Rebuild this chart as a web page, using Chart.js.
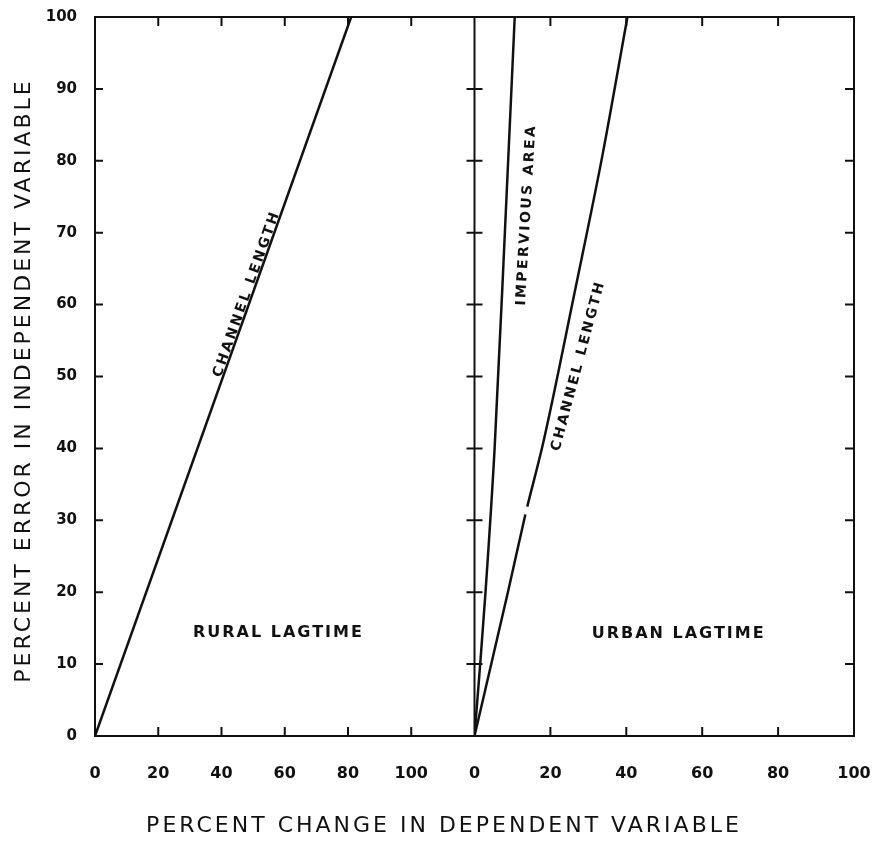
<!DOCTYPE html>
<html>
<head>
<meta charset="utf-8">
<script src="https://cdn.jsdelivr.net/npm/chart.js@4.4.1/dist/chart.umd.min.js"></script>
<style>
  html, body { margin: 0; padding: 0; background: #fff; }
  #wrap { position: relative; width: 879px; height: 846px; }
</style>
</head>
<body>
<div id="wrap"><canvas id="myChart" width="879" height="846"></canvas></div>
<script>
// valores (porcentajes)
const yTickValues = [0, 10, 20, 30, 40, 50, 60, 70, 80, 90, 100];
const ruralTickValues = [0, 20, 40, 60, 80, 100];
const urbanTickValues = [0, 20, 40, 60, 80, 100];

const ruralChannelX = [0, 81];
const ruralChannelY = [0, 100];

const urbanImperviousX = [0, 1.5, 2.9, 5.3, 8, 10.6];
const urbanImperviousY = [0, 10, 20, 40, 70, 100];

const urbanChannelX = [0, 8.8, 13.4, 13.9, 18.2, 26.5, 33.8, 40.3];
const urbanChannelY = [0, 20, 30.8, 31.9, 41, 62, 81, 100];
const urbanChannelGap = 2; // tramo cortado en la linea

const ink = '#111';
const fam = '"DejaVu Sans", "Liberation Sans", sans-serif';

function toPoints(xs, ys) {
    return xs.map((x, i) => ({ x: x, y: ys[i] }));
}

// etiquetas dentro del grafico
const plotLabels = [
    { text: 'CHANNEL LENGTH', axis: 'xRural', x: 48, y: 61.5, angle: -70.4, size: 14, spacing: 2.4 },
    { text: 'IMPERVIOUS AREA', axis: 'xUrban', x: 13.7, y: 72.5, angle: -86.7, size: 14, spacing: 2.4 },
    { text: 'CHANNEL LENGTH', axis: 'xUrban', x: 27.4, y: 51.5, angle: -75, size: 14, spacing: 2.4 },
    { text: 'RURAL LAGTIME', axis: 'xRural', x: 58, y: 14.3, angle: 0, size: 16, spacing: 2 },
    { text: 'URBAN LAGTIME', axis: 'xUrban', x: 53.8, y: 14.2, angle: 0, size: 16, spacing: 2 }
];

const framePlugin = {
    id: 'frameTicks',
    afterDraw(chart) {
        const ctx = chart.ctx;
        const ca = chart.chartArea;
        const y = chart.scales.y;
        const xr = chart.scales.xRural;
        const xu = chart.scales.xUrban;
        const mid = xu.left;
        ctx.save();
        ctx.strokeStyle = ink;
        ctx.lineWidth = 2;
        ctx.strokeRect(ca.left, ca.top, ca.right - ca.left, ca.bottom - ca.top);
        ctx.beginPath();
        ctx.moveTo(mid, ca.top);
        ctx.lineTo(mid, ca.bottom);
        // marcas verticales
        yTickValues.slice(1, -1).forEach(v => {
            const py = y.getPixelForValue(v);
            ctx.moveTo(ca.left, py); ctx.lineTo(ca.left + 8, py);
            ctx.moveTo(mid - 8, py); ctx.lineTo(mid + 8, py);
            ctx.moveTo(ca.right - 9, py); ctx.lineTo(ca.right, py);
        });
        // marcas horizontales
        ruralTickValues.slice(1).forEach(v => {
            const px = xr.getPixelForValue(v);
            ctx.moveTo(px, ca.top); ctx.lineTo(px, ca.top + 9);
            ctx.moveTo(px, ca.bottom); ctx.lineTo(px, ca.bottom - 9);
        });
        urbanTickValues.slice(1, -1).forEach(v => {
            const px = xu.getPixelForValue(v);
            ctx.moveTo(px, ca.top); ctx.lineTo(px, ca.top + 9);
            ctx.moveTo(px, ca.bottom); ctx.lineTo(px, ca.bottom - 9);
        });
        ctx.stroke();

        // textos
        ctx.fillStyle = ink;
        ctx.textAlign = 'center';
        ctx.textBaseline = 'middle';
        plotLabels.forEach(l => {
            const px = chart.scales[l.axis].getPixelForValue(l.x);
            const py = y.getPixelForValue(l.y);
            ctx.save();
            ctx.translate(px, py);
            ctx.rotate(l.angle * Math.PI / 180);
            ctx.font = 'bold ' + l.size + 'px ' + fam;
            ctx.letterSpacing = l.spacing + 'px';
            ctx.fillText(l.text, 0, 0);
            ctx.restore();
        });

        // titulos de los ejes
        ctx.font = '22px ' + fam;
        ctx.letterSpacing = '3px';
        ctx.fillText('PERCENT CHANGE IN DEPENDENT VARIABLE', 444, 826);
        ctx.save();
        ctx.translate(24, (ca.top + ca.bottom) / 2 + 4);
        ctx.rotate(-Math.PI / 2);
        ctx.fillText('PERCENT ERROR IN INDEPENDENT VARIABLE', 0, 0);
        ctx.restore();
        ctx.restore();
    }
};

const tickFont = { family: fam, size: 15, weight: 'bold' };
const xTickFont = { family: fam, size: 16, weight: 'bold' };

const lineStyle = {
    borderColor: ink,
    borderWidth: 2.5,
    pointRadius: 0,
    fill: false,
    cubicInterpolationMode: 'monotone',
    yAxisID: 'y'
};

// fija el tamano del eje y anula el relleno de etiquetas
function fixX(s) {
    s.height = 76;
    s.paddingLeft = 0;
    s.paddingRight = 0;
}

const ctx = document.getElementById('myChart').getContext('2d');
const myChart = new Chart(ctx, {
    type: 'line',
    data: {
        datasets: [
            Object.assign({ label: 'Rural channel length', data: toPoints(ruralChannelX, ruralChannelY), xAxisID: 'xRural' }, lineStyle),
            Object.assign({ label: 'Impervious area', data: toPoints(urbanImperviousX, urbanImperviousY), xAxisID: 'xUrban' }, lineStyle),
            Object.assign({
                label: 'Urban channel length',
                data: toPoints(urbanChannelX, urbanChannelY),
                xAxisID: 'xUrban',
                segment: { borderColor: c => c.p0DataIndex === urbanChannelGap ? 'rgba(0,0,0,0)' : undefined }
            }, lineStyle)
        ]
    },
    options: {
        responsive: false,
        animation: false,
        layout: { padding: { left: 0, top: 17, right: 25, bottom: 34 } },
        plugins: {
            legend: { display: false },
            tooltip: { enabled: false }
        },
        scales: {
            xRural: {
                type: 'linear',
                position: 'bottom',
                stack: 'panels',
                stackWeight: 1,
                min: 0,
                max: 120,
                ticks: {
                    stepSize: 20,
                    autoSkip: false,
                    color: ink,
                    font: xTickFont,
                    padding: 20,
                    maxRotation: 0,
                    callback: v => ruralTickValues.includes(v) ? String(v) : ''
                },
                grid: { display: false },
                border: { display: false },
                afterFit: fixX
            },
            xUrban: {
                type: 'linear',
                position: 'bottom',
                stack: 'panels',
                stackWeight: 1,
                min: 0,
                max: 100,
                ticks: {
                    stepSize: 20,
                    autoSkip: false,
                    color: ink,
                    font: xTickFont,
                    padding: 20,
                    maxRotation: 0,
                    callback: v => urbanTickValues.includes(v) ? String(v) : ''
                },
                grid: { display: false },
                border: { display: false },
                afterFit: fixX
            },
            y: {
                type: 'linear',
                position: 'left',
                min: 0,
                max: 100,
                ticks: {
                    stepSize: 10,
                    color: ink,
                    font: tickFont,
                    padding: 10
                },
                grid: { display: false },
                border: { display: false },
                afterFit: s => { s.width = 95; s.paddingTop = 0; s.paddingBottom = 0; }
            }
        }
    },
    plugins: [framePlugin]
});
</script>
</body>
</html>
